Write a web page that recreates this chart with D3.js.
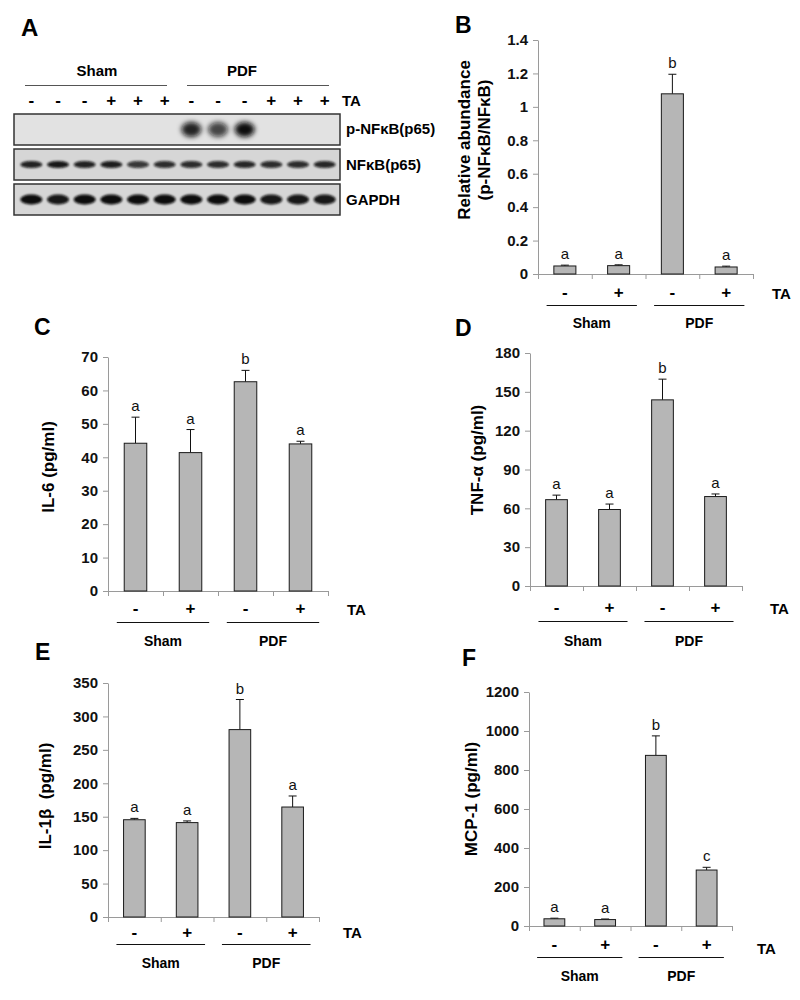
<!DOCTYPE html>
<html>
<head>
<meta charset="utf-8">
<script src="https://cdn.jsdelivr.net/npm/d3@7/dist/d3.min.js"></script>
<style>
  html, body { margin: 0; padding: 0; background: #fff; }
  svg { display: block; }
  text { font-family: "Liberation Sans", Arial, sans-serif; }
</style>
</head>
<body>
<script>
// ---------------- DATA ----------------
const groups = ["Sham", "PDF"];
const taSigns = ["-", "+", "-", "+"];
const categories = ["Sham-", "Sham+", "PDF-", "PDF+"];

// Panel A (western blot)
const laneSigns = ["-", "-", "-", "+", "+", "+", "-", "-", "-", "+", "+", "+"];
const blotRows = ["p-NFκB(p65)", "NFκB(p65)", "GAPDH"];
const pNfkbIntensity = [0, 0, 0, 0, 0, 0, 0.9, 0.75, 1, 0, 0, 0];
const nfkbIntensity = [0.9, 0.95, 0.9, 0.92, 0.8, 0.85, 0.85, 0.85, 0.88, 0.85, 0.85, 0.88];
const gapdhIntensity = [1, 0.95, 1, 1, 1, 1, 1, 1, 1, 0.95, 0.95, 0.95];

// Panel B
const bValues = [0.048, 0.05, 1.078, 0.042];
const bErrors = [0.005, 0.005, 0.117, 0.005];
const bLetters = ["a", "a", "b", "a"];
const bTicks = [0, 0.2, 0.4, 0.6, 0.8, 1, 1.2, 1.4];

// Panel C (IL-6)
const cValues = [44.2, 41.4, 62.6, 44.0];
const cErrors = [7.8, 6.9, 3.4, 0.8];
const cLetters = ["a", "a", "b", "a"];
const cTicks = [0, 10, 20, 30, 40, 50, 60, 70];

// Panel D (TNF-α)
const dValues = [66.7, 59.1, 143.8, 69.1];
const dErrors = [3.5, 4.2, 16.0, 2.0];
const dLetters = ["a", "a", "b", "a"];
const dTicks = [0, 30, 60, 90, 120, 150, 180];

// Panel E (IL-1β)
const eValues = [145.5, 141.2, 280.3, 164.5];
const eErrors = [2.0, 2.5, 45.0, 16.5];
const eLetters = ["a", "a", "b", "a"];
const eTicks = [0, 50, 100, 150, 200, 250, 300, 350];

// Panel F (MCP-1)
const fValues = [37, 33, 875, 287];
const fErrors = [3, 3, 100, 14];
const fLetters = ["a", "a", "b", "c"];
const fTicks = [0, 200, 400, 600, 800, 1000, 1200];

// ---------------- DRAW ----------------
const svg = d3.select("body").append("svg").attr("width", 800).attr("height", 1000);
const defs = svg.append("defs");
defs.append("filter").attr("id", "blurS").attr("x", "-50%").attr("y", "-100%").attr("width", "200%").attr("height", "300%")
  .append("feGaussianBlur").attr("stdDeviation", 1.1);
defs.append("filter").attr("id", "blurL").attr("x", "-80%").attr("y", "-80%").attr("width", "260%").attr("height", "260%")
  .append("feGaussianBlur").attr("stdDeviation", 2.8);

const AXIS_COL = "#9a9a9a";

// ---- Panel A ----
(function () {
  const g = svg.append("g");
  g.append("text").attr("x", 21).attr("y", 36).attr("font-size", 24).attr("font-weight", "bold").text("A");
  const lane = d3.scaleBand().domain(d3.range(laneSigns.length)).range([18, 338]).padding(0);
  const lc = i => lane(i) + lane.bandwidth() / 2;

  const grpPos = [{ name: groups[0], tx: 97, x1: 25, x2: 167 }, { name: groups[1], tx: 242, x1: 187, x2: 329 }];
  grpPos.forEach(p => {
    g.append("text").attr("x", p.tx).attr("y", 76).attr("text-anchor", "middle")
      .attr("font-size", 15).attr("font-weight", "bold").text(p.name);
    g.append("line").attr("x1", p.x1).attr("x2", p.x2).attr("y1", 85.5).attr("y2", 85.5)
      .attr("stroke", "#555").attr("stroke-width", 1);
  });
  g.selectAll("text.sign").data(laneSigns).enter().append("text")
    .attr("x", (d, i) => lc(i)).attr("y", 106).attr("text-anchor", "middle")
    .attr("font-size", 17).attr("font-weight", "bold").text(d => d);
  g.append("text").attr("x", 342).attr("y", 106).attr("font-size", 15).attr("font-weight", "bold").text("TA");

  const rows = [
    { label: blotRows[0], y: 114, h: 31, bg: "#e2e2e2", data: pNfkbIntensity, rx: 10, ry: 7.5, filter: "url(#blurL)", ty: 134 },
    { label: blotRows[1], y: 149, h: 31, bg: "#d6d6d6", data: nfkbIntensity, rx: 11, ry: 3.6, filter: "url(#blurS)", ty: 170 },
    { label: blotRows[2], y: 184, h: 31, bg: "#d6d6d6", data: gapdhIntensity, rx: 11, ry: 5, filter: "url(#blurS)", ty: 205 }
  ];
  rows.forEach(r => {
    g.append("rect").attr("x", 14).attr("y", r.y).attr("width", 326).attr("height", r.h)
      .attr("fill", r.bg);
    const bands = g.append("g").attr("filter", r.filter);
    bands.selectAll("ellipse").data(r.data).enter().append("ellipse")
      .attr("cx", (d, i) => lc(i)).attr("cy", r.y + r.h / 2)
      .attr("rx", r.rx).attr("ry", r.ry)
      .attr("fill", "#0a0a0a").attr("fill-opacity", d => d);
    g.append("rect").attr("x", 14).attr("y", r.y).attr("width", 326).attr("height", r.h)
      .attr("fill", "none").attr("stroke", "#333").attr("stroke-width", 1.5);
    g.append("text").attr("x", 346).attr("y", r.ty).attr("font-size", 15).attr("font-weight", "bold").text(r.label);
  });
})();

// ---- Bar panels ----
const panels = [
  { id: "B", lx: 455, ly: 33, values: bValues, errors: bErrors, letters: bLetters, ticks: bTicks,
    x0: 538, x1: 753, yTop: 40, yBot: 274, titles: ["Relative abundance", "(p-NFκB/NFκB)"], titleX: [464, 484], titleY: 140,
    signY: 292, taX: 772, taY: 299, lineY: 305, grpY: 328 },
  { id: "C", lx: 34, ly: 335, values: cValues, errors: cErrors, letters: cLetters, ticks: cTicks,
    x0: 108, x1: 328, yTop: 357, yBot: 591, titles: ["IL-6 (pg/ml)"], titleX: [48], titleY: 467,
    signY: 608, taX: 347, taY: 615, lineY: 622, grpY: 646 },
  { id: "D", lx: 455, ly: 336, values: dValues, errors: dErrors, letters: dLetters, ticks: dTicks,
    x0: 530, x1: 742, yTop: 353, yBot: 586, titles: ["TNF-α (pg/ml)"], titleX: [477], titleY: 460,
    signY: 607, taX: 770, taY: 614, lineY: 621, grpY: 646 },
  { id: "E", lx: 35, ly: 660, values: eValues, errors: eErrors, letters: eLetters, ticks: eTicks,
    x0: 108, x1: 319, yTop: 683, yBot: 917, titles: ["IL-1β  (pg/ml)"], titleX: [45], titleY: 796,
    signY: 932, taX: 343, taY: 938, lineY: 944, grpY: 968 },
  { id: "F", lx: 462, ly: 666, values: fValues, errors: fErrors, letters: fLetters, ticks: fTicks,
    x0: 529, x1: 732, yTop: 692, yBot: 926, titles: ["MCP-1 (pg/ml)"], titleX: [471], titleY: 799,
    signY: 944, taX: 757, taY: 954, lineY: 957, grpY: 981 }
];

panels.forEach(p => {
  const g = svg.append("g");
  g.append("text").attr("x", p.lx).attr("y", p.ly).attr("font-size", 23).attr("font-weight", "bold").text(p.id);

  const x = d3.scaleBand().domain(categories).range([p.x0, p.x1]).padding(0);
  const y = d3.scaleLinear().domain([0, d3.max(p.ticks)]).range([p.yBot, p.yTop]);
  const bw = x.bandwidth();
  const barW = bw * 0.41;
  const cx = c => x(c) + bw / 2;

  const ya = g.append("g").attr("transform", `translate(${p.x0},0)`)
    .call(d3.axisLeft(y).tickValues(p.ticks).tickSize(5).tickSizeOuter(0).tickPadding(5)
      .tickFormat(d3.format("~g")));
  ya.select(".domain").attr("stroke", AXIS_COL);
  ya.selectAll(".tick line").attr("stroke", AXIS_COL);
  ya.selectAll(".tick text").attr("font-size", 15).attr("font-weight", "bold").attr("fill", "#111")
    .attr("font-family", "Liberation Sans, Arial, sans-serif");

  g.append("line").attr("x1", p.x0).attr("x2", p.x1).attr("y1", p.yBot + 0.5).attr("y2", p.yBot + 0.5)
    .attr("stroke", AXIS_COL);
  const bounds = categories.map(c => x(c)).concat([p.x1]);
  g.selectAll("line.xt").data(bounds).enter().append("line")
    .attr("x1", d => d + 0.5).attr("x2", d => d + 0.5).attr("y1", p.yBot).attr("y2", p.yBot + 5)
    .attr("stroke", AXIS_COL);

  const eb = g.append("g");
  categories.forEach((c, i) => {
    const top = y(p.values[i] + p.errors[i]);
    eb.append("line").attr("x1", cx(c)).attr("x2", cx(c)).attr("y1", y(p.values[i])).attr("y2", top)
      .attr("stroke", "#111").attr("stroke-width", 1);
    eb.append("line").attr("x1", cx(c) - 4).attr("x2", cx(c) + 4).attr("y1", top).attr("y2", top)
      .attr("stroke", "#111").attr("stroke-width", 1);
  });

  g.selectAll("rect.bar").data(p.values).enter().append("rect")
    .attr("x", (d, i) => cx(categories[i]) - barW / 2)
    .attr("y", d => y(d))
    .attr("width", barW)
    .attr("height", d => y(0) - y(d))
    .attr("fill", "#b6b6b6").attr("stroke", "#1a1a1a").attr("stroke-width", 1);

  g.selectAll("text.let").data(p.letters).enter().append("text")
    .attr("x", (d, i) => cx(categories[i])).attr("y", (d, i) => y(p.values[i] + p.errors[i]) - 6)
    .attr("text-anchor", "middle").attr("font-size", 15).attr("fill", "#111").text(d => d);

  g.selectAll("text.sg").data(taSigns).enter().append("text")
    .attr("x", (d, i) => cx(categories[i])).attr("y", p.signY + 6)
    .attr("text-anchor", "middle").attr("font-size", 17).attr("font-weight", "bold").text(d => d);
  g.append("text").attr("x", p.taX).attr("y", p.taY).attr("font-size", 15).attr("font-weight", "bold").text("TA");

  groups.forEach((gr, k) => {
    const center = p.x0 + bw * (2 * k + 1);
    const half = bw * 0.84;
    g.append("line").attr("x1", center - half).attr("x2", center + half)
      .attr("y1", p.lineY + 0.5).attr("y2", p.lineY + 0.5).attr("stroke", "#111").attr("stroke-width", 1);
    g.append("text").attr("x", center).attr("y", p.grpY).attr("text-anchor", "middle")
      .attr("font-size", 14).attr("font-weight", "bold").text(gr);
  });

  p.titles.forEach((t, k) => {
    g.append("text").attr("transform", `translate(${p.titleX[k]},${p.titleY}) rotate(-90)`)
      .attr("text-anchor", "middle").attr("dominant-baseline", "central")
      .attr("font-size", 17).attr("font-weight", "bold").attr("xml:space", "preserve")
      .style("white-space", "pre").text(t);
  });
});
</script>
</body>
</html>
